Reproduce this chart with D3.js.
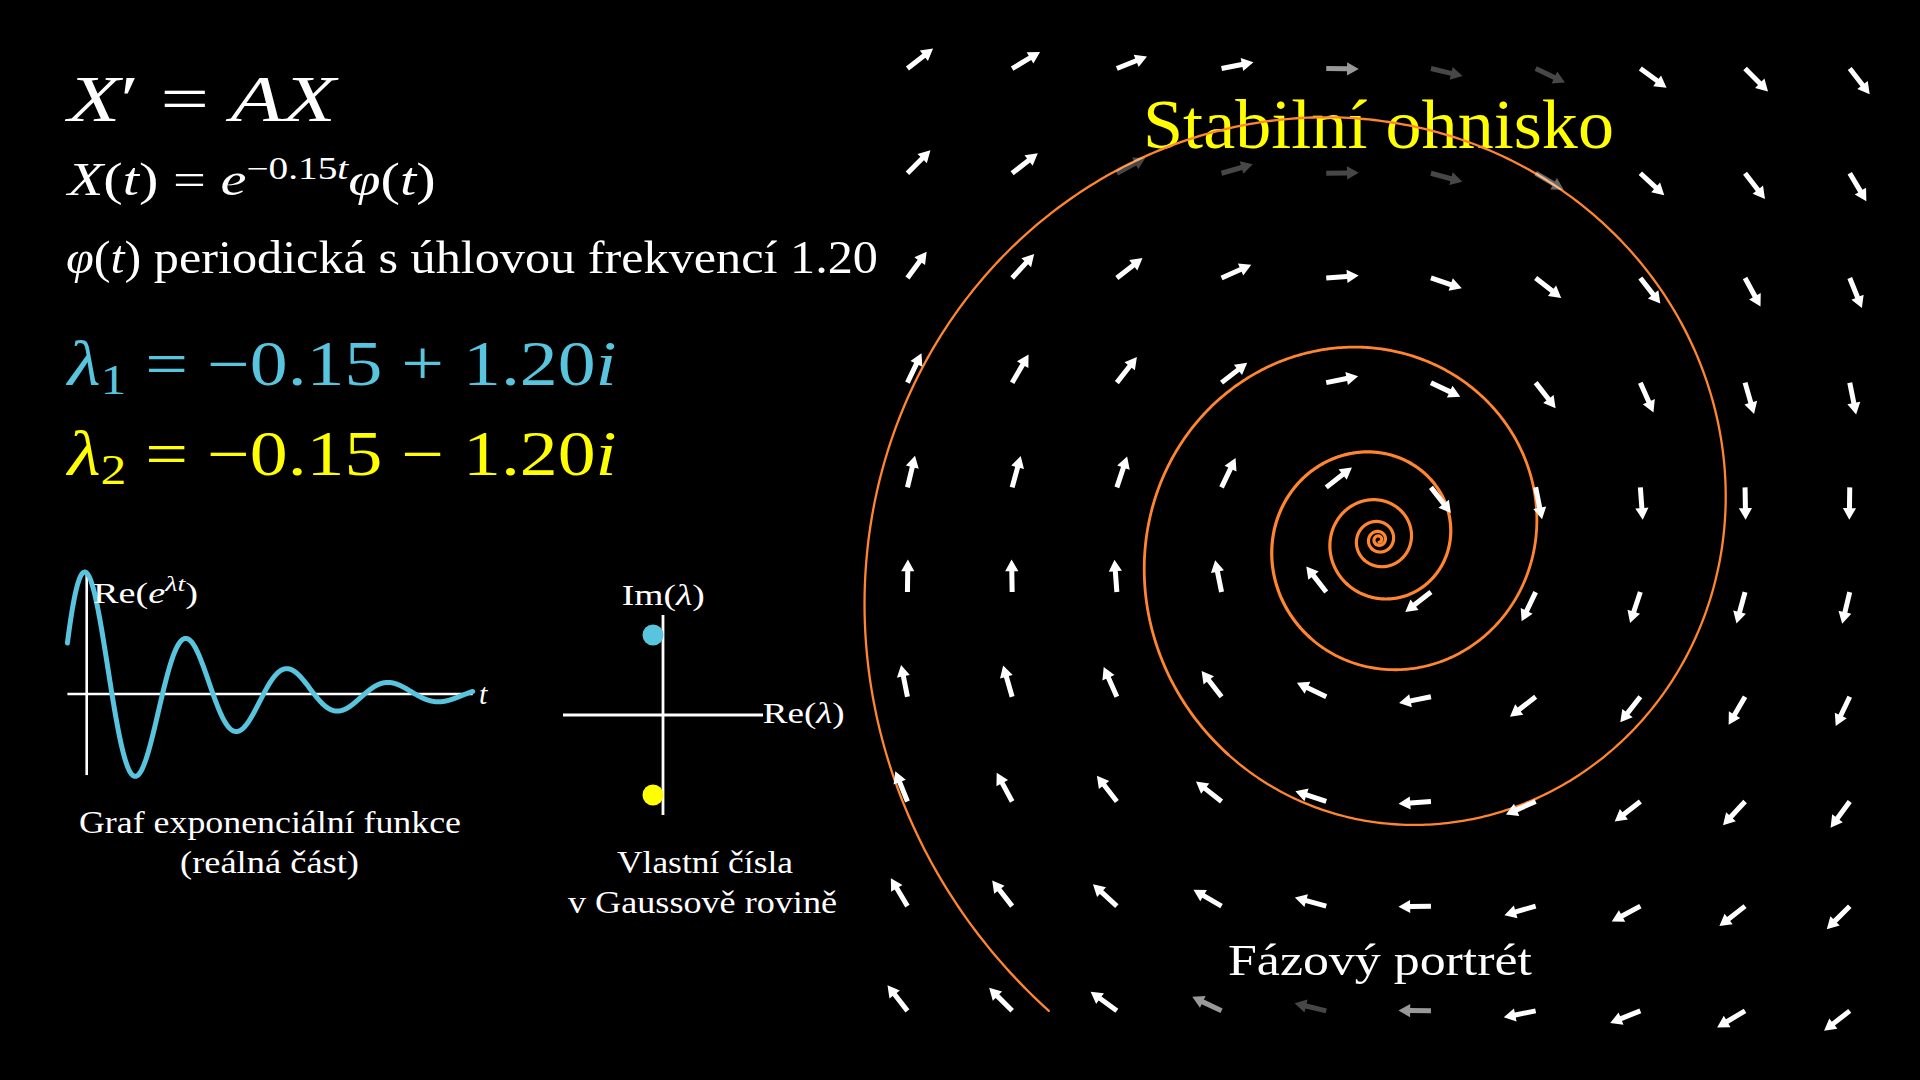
<!DOCTYPE html>
<html><head><meta charset="utf-8">
<script src="https://cdn.jsdelivr.net/npm/d3@7"></script>
<style>html,body{margin:0;padding:0;background:#000;overflow:hidden}</style>
</head><body>
<svg id="chart" width="1920" height="1080"></svg>
<script>
// ---------------- data ----------------
const eigenRe = [-0.15, -0.15];
const eigenIm = [1.20, -1.20];
const eigenColors = ["#58C4DD", "#FFFF00"];
const matrixA = [[-0.15, 1.20], [-1.20, -0.15]];          // X' = AX (phase-plane units)
const gridX = [-4.5, -3.5, -2.5, -1.5, -0.5, 0.5, 1.5, 2.5, 3.5, 4.5];
const gridY = [4.5, 3.5, 2.5, 1.5, 0.5, -0.5, -1.5, -2.5, -3.5, -4.5];
const spiralStart = [-3.15, -4.5];
const spiralTRange = [0, 36];
const graphTRange = [-1, 20];
const graphYAxisRange = [-0.67, 1.0];
const planeRange = [-1.5, 1.5];
// arrows faded behind the captions: [row, col, opacity]
const fadedArrows = [[0,4,0.6],[0,5,0.28],[0,6,0.28],[1,2,0.28],[1,3,0.28],[1,4,0.28],[1,5,0.28],[1,6,0.4],[9,3,0.6],[9,4,0.28],[9,5,0.6]];

// ---------------- setup ----------------
const svg = d3.select("#chart");
svg.append("rect").attr("width", 1920).attr("height", 1080).attr("fill", "#000");
const FONT = "'Liberation Serif', 'Times New Roman', serif";
const ORANGE = "#FF862F";

// rich text helper: segs = [{t, i(italic), s(shift px), f(font size)}]
function rich(x, y, size, segs, opts = {}) {
  const txt = svg.append("text").attr("x", x).attr("y", y)
    .attr("font-family", FONT).attr("font-size", size)
    .attr("fill", opts.fill || "#fff");
  if (opts.width) txt.attr("textLength", opts.width).attr("lengthAdjust", "spacingAndGlyphs");
  let cur = 0;
  segs.forEach(sg => {
    const sh = sg.s || 0;
    const ts = txt.append("tspan").text(sg.t);
    if (sg.i) ts.attr("font-style", "italic");
    if (sg.f) ts.attr("font-size", sg.f);
    if (sh !== cur) { ts.attr("dy", sh - cur); cur = sh; }
  });
  return txt;
}

// ---------------- left formulas ----------------
rich(67.7, 120.7, 66, [{t:"X", i:1}, {t:"′ = "}, {t:"AX", i:1}], {width: 268});
rich(67.7, 195, 46, [{t:"X", i:1}, {t:"("}, {t:"t", i:1}, {t:") = "}, {t:"e", i:1},
  {t:"−0.15", s:-16, f:31}, {t:"t", i:1, s:-16, f:31}, {t:"φ", i:1, s:0}, {t:"("}, {t:"t", i:1}, {t:")"}], {width: 368});
rich(66, 273, 46, [{t:"φ", i:1}, {t:"("}, {t:"t", i:1}, {t:") periodická s úhlovou frekvencí 1.20"}], {width: 812});

eigenRe.forEach((re, k) => {
  const im = eigenIm[k];
  const sign = im >= 0 ? "+" : "−";
  const reTxt = (re < 0 ? "−" : "") + Math.abs(re).toFixed(2);
  rich(67.7, 385 + k * 90, 63, [{t:"λ", i:1}, {t:String(k + 1), s:9, f:43},
    {t:" = " + reTxt + " " + sign + " " + Math.abs(im).toFixed(2), s:0}, {t:"i", i:1}],
    {width: 549, fill: eigenColors[k]});
});

// ---------------- graph of Re(e^{λt}) ----------------
const gx = d3.scaleLinear().domain([-1, 20]).range([67.4, 472.7]);
const gy = d3.scaleLinear().domain([-1, 1]).range([815, 573]);
svg.append("line").attr("x1", gx(graphTRange[0])).attr("x2", gx(graphTRange[1]))
  .attr("y1", gy(0)).attr("y2", gy(0)).attr("stroke", "#fff").attr("stroke-width", 2.6);
svg.append("line").attr("x1", gx(0)).attr("x2", gx(0))
  .attr("y1", gy(graphYAxisRange[0])).attr("y2", gy(graphYAxisRange[1])).attr("stroke", "#fff").attr("stroke-width", 2.6);
const alpha = eigenRe[0], omega = Math.abs(eigenIm[0]);
const tSamples = d3.range(graphTRange[0], graphTRange[1] + 0.001, 0.02);
svg.append("path").datum(tSamples)
  .attr("d", d3.line().x(t => gx(t)).y(t => gy(Math.exp(alpha * t) * Math.cos(omega * t))).curve(d3.curveLinear))
  .attr("fill", "none").attr("stroke", eigenColors[0]).attr("stroke-width", 5).attr("stroke-linejoin", "round").attr("stroke-linecap", "round");
rich(93, 603, 30, [{t:"Re("}, {t:"e", i:1}, {t:"λt", i:1, s:-12, f:22}, {t:")", s:0}], {width: 105});
rich(479, 704, 30, [{t:"t", i:1}]);
rich(79, 833, 31, [{t:"Graf exponenciální funkce"}], {width: 382});
rich(180, 873, 31, [{t:"(reálná část)"}], {width: 179});

// ---------------- complex plane ----------------
const px = d3.scaleLinear().domain(planeRange).range([563, 763]);
const py = d3.scaleLinear().domain(planeRange).range([815, 615]);
svg.append("line").attr("x1", px(planeRange[0])).attr("x2", px(planeRange[1]))
  .attr("y1", py(0)).attr("y2", py(0)).attr("stroke", "#fff").attr("stroke-width", 2.8);
svg.append("line").attr("x1", px(0)).attr("x2", px(0))
  .attr("y1", py(planeRange[0])).attr("y2", py(planeRange[1])).attr("stroke", "#fff").attr("stroke-width", 2.8);
svg.selectAll("circle.eig").data(eigenRe.map((r, k) => ({r, i: eigenIm[k], c: eigenColors[k]})))
  .join("circle").attr("class", "eig").attr("cx", d => px(d.r)).attr("cy", d => py(d.i))
  .attr("r", 10.5).attr("fill", d => d.c);
rich(621.7, 605, 30, [{t:"Im("}, {t:"λ", i:1}, {t:")"}], {width: 83});
rich(762.7, 723, 30, [{t:"Re("}, {t:"λ", i:1}, {t:")"}], {width: 82});
rich(617, 873, 31, [{t:"Vlastní čísla"}], {width: 176});
rich(568, 913, 31, [{t:"v Gaussově rovině"}], {width: 269});

// ---------------- phase portrait ----------------
const sx = d3.scaleLinear().domain([-5, 5]).range([855.1, 1902.1]);
const sy = d3.scaleLinear().domain([-5, 5]).range([1063.2, 16.2]);

rich(1143, 148, 70, [{t:"Stabilní ohnisko"}], {width: 471, fill: "#FFFF00"});
rich(1228, 975, 45, [{t:"Fázový portrét"}], {width: 304});

// trajectory X(t) = e^{At} X0
const a = (matrixA[0][0] + matrixA[1][1]) / 2, w = matrixA[0][1];
function traj(t) {
  const e = Math.exp(a * t), c = Math.cos(w * t), s = Math.sin(w * t);
  return [e * (c * spiralStart[0] + s * spiralStart[1]), e * (-s * spiralStart[0] + c * spiralStart[1])];
}
const period = 2 * Math.PI / Math.abs(w);
const nTurns = Math.ceil((spiralTRange[1] - spiralTRange[0]) / period);
for (let k = 0; k < nTurns; k++) {
  const t0 = spiralTRange[0] + k * period, t1 = Math.min(spiralTRange[1], t0 + period + 0.02);
  const pts = d3.range(t0, t1, 0.01).map(traj);
  svg.append("path").datum(pts)
    .attr("d", d3.line().x(p => sx(p[0])).y(p => sy(p[1])))
    .attr("fill", "none").attr("stroke", ORANGE)
    .attr("stroke-width", k === 0 ? 2.3 : (k === 1 ? 2.8 : 3.2)).attr("stroke-linecap", "round");
}

// arrow field
const fadeMap = new Map(fadedArrows.map(f => [f[0] + "," + f[1], f[2]]));
const L = 32.5, HL = 11.7, HW = 6.6, SW = 2.5;
const arrowPath = `M0,${-SW}L${L - HL},${-SW}L${L - HL},${-HW}L${L},0L${L - HL},${HW}L${L - HL},${SW}L0,${SW}Z`;
const cells = [];
gridY.forEach((v, r) => gridX.forEach((u, c) => cells.push({u, v, r, c})));
svg.append("g").selectAll("path").data(cells).join("path")
  .attr("d", arrowPath)
  .attr("fill", "#fff")
  .attr("opacity", d => fadeMap.has(d.r + "," + d.c) ? fadeMap.get(d.r + "," + d.c) : 1)
  .attr("transform", d => {
    const du = matrixA[0][0] * d.u + matrixA[0][1] * d.v;
    const dv = matrixA[1][0] * d.u + matrixA[1][1] * d.v;
    const ang = Math.atan2(-dv, du) * 180 / Math.PI;
    return `translate(${sx(d.u)},${sy(d.v)}) rotate(${ang})`;
  });
</script>
</body></html>
